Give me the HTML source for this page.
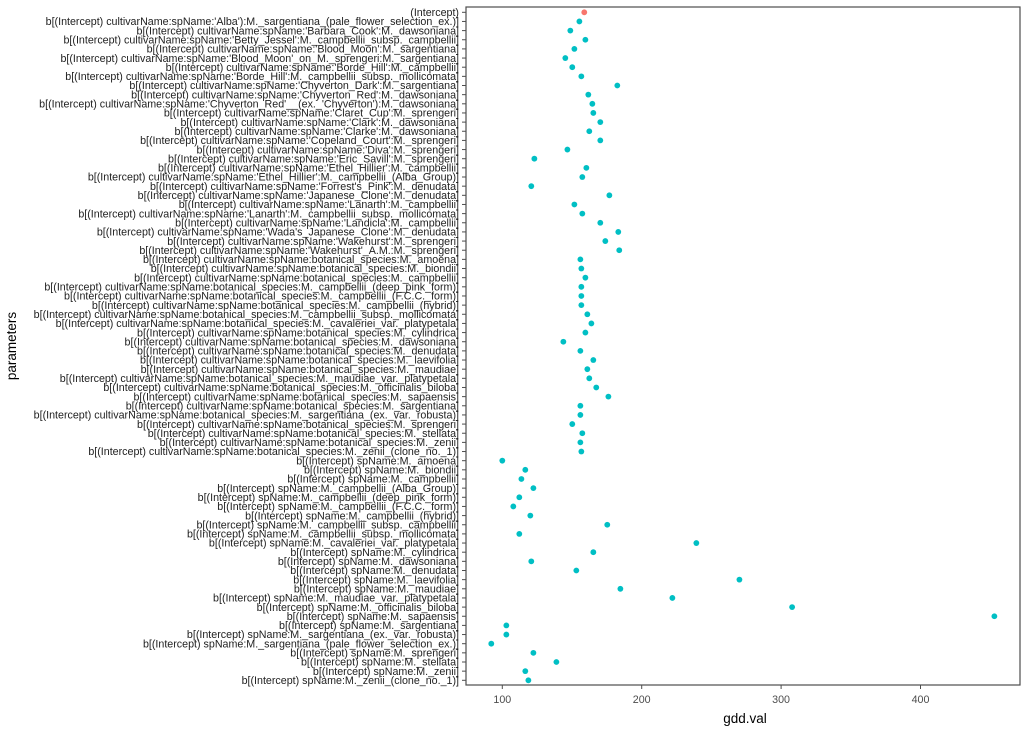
<!DOCTYPE html>
<html><head><meta charset="utf-8"><style>
html,body{margin:0;padding:0;background:#fff;}
svg{display:block;font-family:"Liberation Sans",Arial,sans-serif;}
</style></head><body>
<svg id="chart" width="1029" height="733" viewBox="0 0 1029 733" xmlns="http://www.w3.org/2000/svg">
<rect x="466" y="7" width="554" height="678" fill="#fff" stroke="#4d4d4d" stroke-width="1.2"/>
<g id="yticks"></g><g id="xticks"></g><g id="points"></g>
<text x="0" y="0" transform="translate(16,346) rotate(-90)" text-anchor="middle" font-size="13.5" fill="#000">parameters</text>
<text x="745" y="723" text-anchor="middle" font-size="13.5" fill="#000">gdd.val</text>
</svg>
<script>
const labels = [
"(Intercept)",
"b[(Intercept) cultivarName:spName:'Alba'):M._sargentiana_(pale_flower_selection_ex.)]",
"b[(Intercept) cultivarName:spName:'Barbara_Cook':M._dawsoniana]",
"b[(Intercept) cultivarName:spName:'Betty_Jessel':M._campbellii_subsp._campbellii]",
"b[(Intercept) cultivarName:spName:'Blood_Moon':M._sargentiana]",
"b[(Intercept) cultivarName:spName:'Blood_Moon'_on_M._sprengeri:M._sargentiana]",
"b[(Intercept) cultivarName:spName:'Borde_Hill':M._campbellii]",
"b[(Intercept) cultivarName:spName:'Borde_Hill':M._campbellii_subsp._mollicomata]",
"b[(Intercept) cultivarName:spName:'Chyverton_Dark':M._sargentiana]",
"b[(Intercept) cultivarName:spName:'Chyverton_Red':M._dawsoniana]",
"b[(Intercept) cultivarName:spName:'Chyverton_Red'__(ex._'Chyverton'):M._dawsoniana]",
"b[(Intercept) cultivarName:spName:'Claret_Cup':M._sprengeri]",
"b[(Intercept) cultivarName:spName:'Clark':M._dawsoniana]",
"b[(Intercept) cultivarName:spName:'Clarke':M._dawsoniana]",
"b[(Intercept) cultivarName:spName:'Copeland_Court':M._sprengeri]",
"b[(Intercept) cultivarName:spName:'Diva':M._sprengeri]",
"b[(Intercept) cultivarName:spName:'Eric_Savill':M._sprengeri]",
"b[(Intercept) cultivarName:spName:'Ethel_Hillier':M._campbellii]",
"b[(Intercept) cultivarName:spName:'Ethel_Hillier':M._campbellii_(Alba_Group)]",
"b[(Intercept) cultivarName:spName:'Forrest's_Pink':M._denudata]",
"b[(Intercept) cultivarName:spName:'Japanese_Clone':M._denudata]",
"b[(Intercept) cultivarName:spName:'Lanarth':M._campbellii]",
"b[(Intercept) cultivarName:spName:'Lanarth':M._campbellii_subsp._mollicomata]",
"b[(Intercept) cultivarName:spName:'Landicla':M._campbellii]",
"b[(Intercept) cultivarName:spName:'Wada's_Japanese_Clone':M._denudata]",
"b[(Intercept) cultivarName:spName:'Wakehurst':M._sprengeri]",
"b[(Intercept) cultivarName:spName:'Wakehurst'_A.M.:M._sprengeri]",
"b[(Intercept) cultivarName:spName:botanical_species:M._amoena]",
"b[(Intercept) cultivarName:spName:botanical_species:M._biondii]",
"b[(Intercept) cultivarName:spName:botanical_species:M._campbellii]",
"b[(Intercept) cultivarName:spName:botanical_species:M._campbellii_(deep_pink_form)]",
"b[(Intercept) cultivarName:spName:botanical_species:M._campbellii_(F.C.C._form)]",
"b[(Intercept) cultivarName:spName:botanical_species:M._campbellii_(hybrid)]",
"b[(Intercept) cultivarName:spName:botanical_species:M._campbellii_subsp._mollicomata]",
"b[(Intercept) cultivarName:spName:botanical_species:M._cavaleriei_var._platypetala]",
"b[(Intercept) cultivarName:spName:botanical_species:M._cylindrica]",
"b[(Intercept) cultivarName:spName:botanical_species:M._dawsoniana]",
"b[(Intercept) cultivarName:spName:botanical_species:M._denudata]",
"b[(Intercept) cultivarName:spName:botanical_species:M._laevifolia]",
"b[(Intercept) cultivarName:spName:botanical_species:M._maudiae]",
"b[(Intercept) cultivarName:spName:botanical_species:M._maudiae_var._platypetala]",
"b[(Intercept) cultivarName:spName:botanical_species:M._officinalis_biloba]",
"b[(Intercept) cultivarName:spName:botanical_species:M._sapaensis]",
"b[(Intercept) cultivarName:spName:botanical_species:M._sargentiana]",
"b[(Intercept) cultivarName:spName:botanical_species:M._sargentiana_(ex._var._robusta)]",
"b[(Intercept) cultivarName:spName:botanical_species:M._sprengeri]",
"b[(Intercept) cultivarName:spName:botanical_species:M._stellata]",
"b[(Intercept) cultivarName:spName:botanical_species:M._zenii]",
"b[(Intercept) cultivarName:spName:botanical_species:M._zenii_(clone_no._1)]",
"b[(Intercept) spName:M._amoena]",
"b[(Intercept) spName:M._biondii]",
"b[(Intercept) spName:M._campbellii]",
"b[(Intercept) spName:M._campbellii_(Alba_Group)]",
"b[(Intercept) spName:M._campbellii_(deep_pink_form)]",
"b[(Intercept) spName:M._campbellii_(F.C.C._form)]",
"b[(Intercept) spName:M._campbellii_(hybrid)]",
"b[(Intercept) spName:M._campbellii_subsp._campbellii]",
"b[(Intercept) spName:M._campbellii_subsp._mollicomata]",
"b[(Intercept) spName:M._cavaleriei_var._platypetala]",
"b[(Intercept) spName:M._cylindrica]",
"b[(Intercept) spName:M._dawsoniana]",
"b[(Intercept) spName:M._denudata]",
"b[(Intercept) spName:M._laevifolia]",
"b[(Intercept) spName:M._maudiae]",
"b[(Intercept) spName:M._maudiae_var._platypetala]",
"b[(Intercept) spName:M._officinalis_biloba]",
"b[(Intercept) spName:M._sapaensis]",
"b[(Intercept) spName:M._sargentiana]",
"b[(Intercept) spName:M._sargentiana_(ex._var._robusta)]",
"b[(Intercept) spName:M._sargentiana_(pale_flower_selection_ex.)]",
"b[(Intercept) spName:M._sprengeri]",
"b[(Intercept) spName:M._stellata]",
"b[(Intercept) spName:M._zenii]",
"b[(Intercept) spName:M._zenii_(clone_no._1)]"
];
const values = [158.8,155.3,148.8,159.6,151.7,145.2,150.2,156.7,182.5,161.7,164.6,165.3,170.3,162.4,170.3,146.7,123.0,160.3,157.4,120.8,176.8,151.7,157.4,170.3,183.2,173.9,183.9,156.0,156.7,159.6,156.7,156.7,156.7,161.0,163.9,159.6,143.8,156.0,165.3,161.0,162.4,167.4,176.1,156.0,156.0,150.2,157.4,156.0,156.7,100.0,116.5,113.7,122.3,112.2,107.9,120.1,175.3,112.2,239.2,165.3,120.8,153.1,270.1,184.7,222.0,307.9,453.0,102.9,102.9,92.1,122.3,138.8,116.5,118.7];
const xTicks = [100,200,300,400];

const NS = "http://www.w3.org/2000/svg";
const xScale = v => 502.3 + (v - 100) * 1.394;
const yScale = i => 12.3 + i * (668 / (labels.length - 1));
function mk(tag, attrs, parent){const e=document.createElementNS(NS,tag);for(const k in attrs)e.setAttribute(k,attrs[k]);parent.appendChild(e);return e;}
const yg=document.getElementById('yticks'), xg=document.getElementById('xticks'), pg=document.getElementById('points');
labels.forEach((lab,i)=>{
  const y=yScale(i);
  const t=mk('line',{x1:462,x2:466,y1:y,y2:y,stroke:'#4d4d4d','stroke-width':1},yg);
  
  
  const tx=mk('text',{x:459,y:y+3.7,'text-anchor':'end','font-size':'10.7',fill:'#222'},yg);
  tx.textContent=lab;
  
  
  const c=mk('circle',{cx:xScale(values[i]),cy:y,r:2.9,fill:i===0?'#F8766D':'#00BFC4'},pg);
  
  
});
xTicks.forEach(v=>{
  const x=xScale(v);
  const t=mk('line',{x1:x,x2:x,y1:685,y2:689,stroke:'#4d4d4d','stroke-width':1},xg);
  
  
  const tx=mk('text',{x:x,y:703,'text-anchor':'middle','font-size':'10.7',fill:'#4d4d4d'},xg);
  tx.textContent=v;
  
  
});
</script>
</body></html>
